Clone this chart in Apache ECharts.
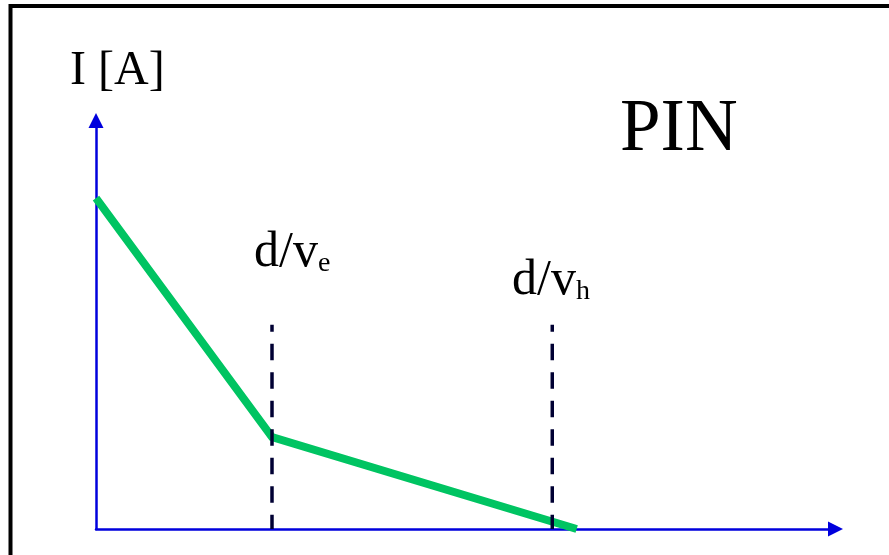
<!DOCTYPE html>
<html>
<head>
<meta charset="utf-8">
<title>PIN</title>
<script src="https://cdn.jsdelivr.net/npm/echarts@6/dist/echarts.min.js"></script>
<style>
    html, body {
        margin: 0;
        padding: 0;
        background: #fff;
    }
    #myChart {
        width: 889px;
        height: 555px;
    }
</style>
</head>
<body>
<div id="myChart"></div>
<script>
    // current pulse, time in arbitrary units
    var tData = [0, 2.38, 6.5];
    var iData = [8.1, 2.25, 0];
    // transit times d/ve and d/vh
    var transitT = [2.38, 6.17];
    var transitTop = 5;
    var transitNames = ['e', 'h'];

    var blue = '#0000dd';
    var font = '"Liberation Serif", "DejaVu Serif", serif';

    function pairs(xs, ys) {
        var out = [];
        for (var i = 0; i < xs.length; i++) {
            out.push([xs[i], ys[i]]);
        }
        return out;
    }

    function axis() {
        return {
            type: 'value',
            min: 0,
            max: 10,
            axisLine: {
                show: true,
                onZero: false,
                symbol: ['none', 'triangle'],
                symbolSize: [15, 15],
                lineStyle: { color: blue, width: 2.5 }
            },
            axisTick: { show: false },
            axisLabel: { show: false },
            splitLine: { show: false }
        };
    }

    var series = [{
        name: 'I',
        type: 'line',
        data: pairs(tData, iData),
        showSymbol: false,
        symbol: 'none',
        z: 3,
        lineStyle: { color: '#00c462', width: 8, cap: 'butt', join: 'miter' }
    }];

    transitT.forEach(function (t, k) {
        series.push({
            name: 'd/v' + transitNames[k],
            type: 'line',
            data: [[t, transitTop], [t, 0]],
            showSymbol: false,
            symbol: 'none',
            z: 4,
            lineStyle: { color: '#000033', width: 3.5, type: [16.5, 12], dashOffset: 9.5 }
        });
    });

    function transitLabel(name, left, top) {
        return {
            type: 'text',
            left: left,
            top: top,
            style: {
                text: '{m|d/v}{s|' + name + '}',
                rich: {
                    m: { fontFamily: font, fontSize: 50, color: '#000', verticalAlign: 'bottom', lineHeight: 50 },
                    s: { fontFamily: font, fontSize: 28, color: '#000', verticalAlign: 'bottom', lineHeight: 50 }
                }
            }
        };
    }

    var myChart = echarts.init(document.getElementById('myChart'));
    myChart.setOption({
        animation: false,
        grid: {
            left: 96,
            right: 53.5,
            top: 120.5,
            bottom: 26
        },
        xAxis: axis(),
        yAxis: axis(),
        series: series,
        graphic: [
            {
                type: 'rect',
                shape: { x: 10.5, y: 6, width: 1000, height: 1000 },
                style: { fill: 'none', stroke: '#000', lineWidth: 4 }
            },
            {
                type: 'text',
                left: 70,
                top: 47,
                style: { text: 'I [A]', fontFamily: font, fontSize: 48, fill: '#000' }
            },
            {
                type: 'text',
                left: 620,
                top: 94,
                style: { text: 'PIN', fontFamily: font, fontSize: 73, fill: '#000' }
            },
            transitLabel(transitNames[0], 254, 228),
            transitLabel(transitNames[1], 512, 256)
        ]
    });
</script>
</body>
</html>
